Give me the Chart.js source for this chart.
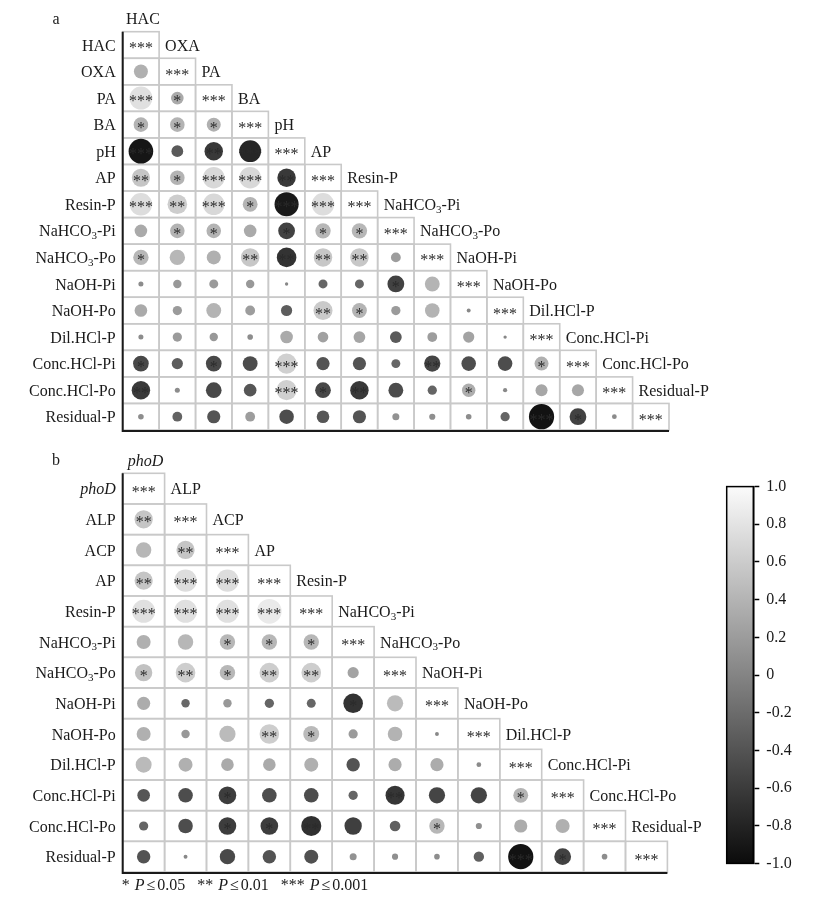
<!DOCTYPE html>
<html><head><meta charset="utf-8">
<script src="https://cdn.jsdelivr.net/npm/chart.js@4.4.1/dist/chart.umd.min.js"></script>
<style>
body{margin:0;background:#fff;width:833px;height:899px;overflow:hidden;position:relative}
canvas{position:absolute}
</style></head><body>
<canvas id="ca" width="833" height="445" style="left:0px;top:0px"></canvas>
<canvas id="cb" width="718" height="454" style="left:0px;top:445px"></canvas>
<canvas id="cc" width="115" height="410" style="left:718px;top:470px"></canvas>
<script>
// ---------- DATA ----------
const labelsA = ['HAC','OXA','PA','BA','pH','AP','Resin-P','NaHCO3-Pi','NaHCO3-Po','NaOH-Pi','NaOH-Po','Dil.HCl-P','Conc.HCl-Pi','Conc.HCl-Po','Residual-P'];
const valuesA = [
  [],
  [0.5],
  [0.82, 0.45],
  [0.52, 0.52, 0.5],
  [-0.88, -0.42, -0.66, -0.78],
  [0.65, 0.52, 0.77, 0.77, -0.66],
  [0.8, 0.7, 0.77, 0.53, -0.86, 0.8],
  [0.45, 0.52, 0.52, 0.45, -0.6, 0.55, 0.55],
  [0.55, 0.55, 0.5, 0.66, -0.7, 0.66, 0.66, 0.35],
  [0.18, 0.3, 0.32, 0.3, 0.12, -0.32, -0.32, -0.6, 0.53],
  [0.45, 0.33, 0.53, 0.35, -0.4, 0.68, 0.53, 0.33, 0.52, 0.14],
  [0.18, 0.33, 0.3, 0.2, 0.45, 0.38, 0.42, -0.42, 0.35, 0.4, 0.12],
  [-0.56, -0.4, -0.56, -0.53, 0.72, -0.47, -0.47, -0.32, -0.58, -0.52, -0.52, 0.5],
  [-0.66, 0.18, -0.56, -0.45, 0.72, -0.56, -0.66, -0.53, -0.33, 0.48, 0.15, 0.43, 0.43],
  [0.2, -0.35, -0.47, 0.35, -0.52, -0.45, -0.47, 0.25, 0.22, 0.2, -0.33, -0.9, -0.6, 0.17]
];
const sigA = [
  [],
  [''],
  ['***','*'],
  ['*','*','*'],
  ['***','','**','***'],
  ['**','*','***','***','**'],
  ['***','**','***','*','***','***'],
  ['','*','*','','*','*','*'],
  ['*','','','**','**','**','**',''],
  ['','','','','','','','*',''],
  ['','','','','','**','*','','',''],
  ['','','','','','','','','','',''],
  ['*','','*','','***','','','','**','','','*'],
  ['**','','','','***','*','**','','','*','','',''],
  ['','','','','','','','','','','','***','*','']
];
const labelsB = ['phoD','ALP','ACP','AP','Resin-P','NaHCO3-Pi','NaHCO3-Po','NaOH-Pi','NaOH-Po','Dil.HCl-P','Conc.HCl-Pi','Conc.HCl-Po','Residual-P'];
const valuesB = [
  [],
  [0.65],
  [0.55, 0.65],
  [0.65, 0.8, 0.8],
  [0.82, 0.82, 0.82, 0.88],
  [0.5, 0.55, 0.55, 0.55, 0.55],
  [0.62, 0.7, 0.55, 0.7, 0.7, 0.4],
  [0.47, -0.3, 0.3, -0.33, -0.32, -0.7, 0.58],
  [0.5, 0.3, 0.58, 0.7, 0.57, 0.33, 0.52, 0.14],
  [0.57, 0.5, 0.45, 0.45, 0.5, -0.48, 0.47, 0.47, 0.17],
  [-0.45, -0.52, -0.63, -0.52, -0.52, -0.33, -0.68, -0.58, -0.58, 0.53],
  [-0.33, -0.52, -0.63, -0.63, -0.72, -0.62, -0.38, 0.55, 0.22, 0.47, 0.5],
  [-0.48, 0.14, -0.55, -0.48, -0.5, 0.25, 0.22, 0.2, -0.37, -0.9, -0.6, 0.2]
];
const sigB = [
  [],
  ['**'],
  ['','**'],
  ['**','***','***'],
  ['***','***','***','***'],
  ['','','*','*','*'],
  ['*','**','*','**','**',''],
  ['','','','','','*',''],
  ['','','','**','*','','',''],
  ['','','','','','','','',''],
  ['','','*','','','','**','','','*'],
  ['','','*','*','**','','','*','','',''],
  ['','','','','','','','','','***','*','']
];
const diagSig = '***';
const italicLabels = ['phoD'];
const colorbarTicks = [-1, -0.8, -0.6, -0.4, -0.2, 0, 0.2, 0.4, 0.6, 0.8, 1];

// ---------- HELPERS ----------
const SERIF = '"Liberation Serif","Times New Roman",serif';
const LFS = 16;
function gray(r){
  const g = Math.round(128 + 127*Math.sign(r)*Math.pow(Math.abs(r),1.4));
  return 'rgb('+g+','+g+','+g+')';
}
function parts(txt){
  if (txt.startsWith('NaHCO3')) return [['NaHCO',0],['3',1],[txt.slice(6),0]];
  return [[txt,0]];
}
function drawLabel(ctx, txt, x, y, align, fs){
  const it = italicLabels.includes(txt) ? 'italic ' : '';
  const ps = parts(txt);
  const fMain = it + fs + 'px ' + SERIF, fSub = it + Math.round(fs*0.7) + 'px ' + SERIF;
  let w = 0;
  ps.forEach(p=>{ctx.font = p[1]?fSub:fMain; w += ctx.measureText(p[0]).width;});
  let cx = align==='right' ? x - w : (align==='center' ? x - w/2 : x);
  ctx.textAlign = 'left'; ctx.textBaseline = 'alphabetic';
  ps.forEach(p=>{
    ctx.font = p[1]?fSub:fMain;
    ctx.fillText(p[0], cx, y + fs*0.35 + (p[1]?fs*0.18:0));
    cx += ctx.measureText(p[0]).width;
  });
}
function drawStars(ctx, s, x, y){
  if(!s) return;
  ctx.font = '16px ' + SERIF;
  ctx.textAlign = 'center'; ctx.textBaseline = 'alphabetic';
  ctx.fillStyle = '#2a2a2a';
  ctx.fillText(s, x, y + 8);
}
function buildPoints(vals, sig){
  const pts = [];
  vals.forEach((row,i)=>row.forEach((v,j)=>pts.push({x:j, y:i, v:v, s:sig[i][j]})));
  return pts;
}

function matrixPlugin(labels, panelLetter, legend){
  return {
    id:'matrix'+panelLetter,
    beforeDatasetsDraw(chart){
      const ctx = chart.ctx, xs = chart.scales.x, ys = chart.scales.y, n = labels.length;
      ctx.save();
      ctx.strokeStyle = '#c9c9c9'; ctx.lineWidth = 1.6;
      for(let i=0;i<n;i++) for(let j=0;j<=i;j++){
        const x0 = xs.getPixelForValue(j-0.5), x1 = xs.getPixelForValue(j+0.5);
        const y0 = ys.getPixelForValue(i-0.5), y1 = ys.getPixelForValue(i+0.5);
        ctx.strokeRect(x0, y0, x1-x0, y1-y0);
      }
      const a = chart.chartArea;
      ctx.strokeStyle = '#1a1a1a'; ctx.lineWidth = 2;
      ctx.beginPath(); ctx.moveTo(a.left, a.top); ctx.lineTo(a.left, a.bottom+1); ctx.lineTo(a.right, a.bottom+1); ctx.stroke();
      ctx.restore();
    },
    afterDatasetsDraw(chart){
      const ctx = chart.ctx, xs = chart.scales.x, ys = chart.scales.y, n = labels.length;
      ctx.save();
      chart.data.datasets[0].data.forEach(p=>drawStars(ctx, p.s, xs.getPixelForValue(p.x), ys.getPixelForValue(p.y)));
      for(let i=0;i<n;i++) drawStars(ctx, diagSig, xs.getPixelForValue(i), ys.getPixelForValue(i));
      ctx.fillStyle = '#1a1a1a';
      for(let i=0;i<n;i++) drawLabel(ctx, labels[i], chart.chartArea.left - 7, ys.getPixelForValue(i), 'right', LFS);
      drawLabel(ctx, labels[0], xs.getPixelForValue(0) + 2, ys.getPixelForValue(-0.5) - 13, 'center', LFS);
      for(let j=1;j<n;j++) drawLabel(ctx, labels[j], xs.getPixelForValue(j-0.5) + 6, ys.getPixelForValue(j-1), 'left', LFS);
      ctx.font = '16px ' + SERIF; ctx.textAlign='center'; ctx.textBaseline='alphabetic';
      ctx.fillText(panelLetter, 56, ys.getPixelForValue(-0.5) - 13 + 5);
      if(legend){
        let x = chart.chartArea.left - 1, y = chart.chartArea.bottom + 18;
        ctx.textAlign='left';
        legend.forEach(p=>{
          ctx.font = (p[1]?'italic ':'') + '16px ' + SERIF;
          ctx.fillText(p[0], x, y);
          x += ctx.measureText(p[0]).width + (p[2]||0);
        });
      }
      ctx.restore();
    }
  };
}

function makeMatrix(id, labels, vals, sig, letter, pad, legend){
  const n = labels.length;
  return new Chart(document.getElementById(id), {
    type:'scatter',
    data:{datasets:[{data:buildPoints(vals,sig),
      pointRadius: c => 14*Math.abs(c.raw.v),
      pointHoverRadius: c => 14*Math.abs(c.raw.v),
      pointBackgroundColor: c => gray(c.raw.v),
      pointBorderWidth:0, pointBorderColor:'rgba(0,0,0,0)'}]},
    options:{responsive:false, animation:false, events:[],
      layout:{padding:pad},
      plugins:{legend:{display:false}, tooltip:{enabled:false}},
      scales:{
        x:{type:'linear', display:false, min:-0.5, max:n-0.5},
        y:{type:'linear', display:false, min:-0.5, max:n-0.5, reverse:true}
      }},
    plugins:[matrixPlugin(labels, letter, legend)]
  });
}

const legendParts = [['* ',0,1],['P',1,2],['\u2264',0,2],['0.05   ** ',0,1],['P',1,2],['\u2264',0,2],['0.01   *** ',0,1],['P',1,2],['\u2264',0,2],['0.001',0,0]];

makeMatrix('ca', labelsA, valuesA, sigA, 'a', {left:122.7, right:164, top:31.7, bottom:15}, null);
makeMatrix('cb', labelsB, valuesB, sigB, 'b', {left:122.7, right:50.6, top:28.3, bottom:27}, legendParts);

// ---------- COLORBAR ----------
const cbPlugin = {
  id:'cbar',
  beforeDatasetsDraw(chart){
    const a = chart.chartArea, ctx = chart.ctx, ys = chart.scales.y;
    const g = ctx.createLinearGradient(0, ys.getPixelForValue(1), 0, ys.getPixelForValue(-1));
    g.addColorStop(0, '#fbfbfb'); g.addColorStop(0.5, '#848484'); g.addColorStop(1, '#0b0b0b');
    ctx.save(); ctx.fillStyle = g; ctx.fillRect(a.left, a.top, a.right-a.left, a.bottom-a.top);
    ctx.strokeStyle = '#000'; ctx.lineWidth = 1.5; ctx.strokeRect(a.left, a.top, a.right-a.left, a.bottom-a.top);
    ctx.restore();
  }
};
new Chart(document.getElementById('cc'), {
  type:'scatter',
  data:{datasets:[{data:[]}]},
  options:{responsive:false, animation:false, events:[],
    layout:{padding:{left:8.7, top:10.7, bottom:13.3, right:0}},
    plugins:{legend:{display:false}, tooltip:{enabled:false}},
    scales:{
      x:{display:false, min:0, max:1},
      y:{position:'right', min:-1, max:1,
        afterBuildTicks: s => { s.ticks = colorbarTicks.map(v=>({value:v})); },
        afterFit: s => { s.width = 115 - 8.7 - 26.6; },
        ticks:{color:'#1a1a1a', padding:7, font:{family:SERIF, size:16},
          callback: v => { const r = Math.round(v*10)/10; return r===0 ? '0' : r.toFixed(1); }},
        grid:{drawOnChartArea:false, tickLength:6, color:'#000', tickWidth:1.5},
        border:{display:true, color:'#000', width:1.5}
      }
    }},
  plugins:[cbPlugin]
});
</script>
</body></html>
